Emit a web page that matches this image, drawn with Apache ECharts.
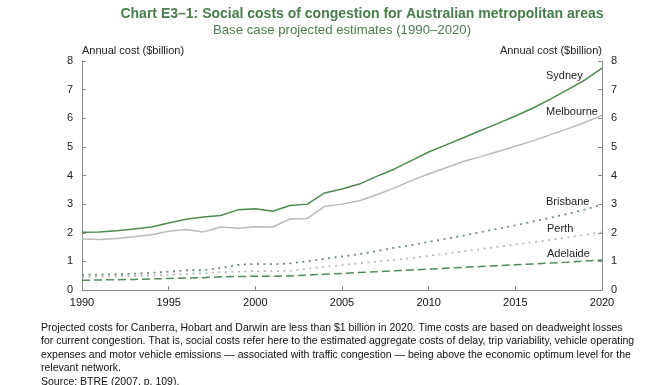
<!DOCTYPE html>
<html>
<head>
<meta charset="utf-8">
<script src="https://cdn.jsdelivr.net/npm/echarts@6/dist/echarts.min.js"></script>
<style>
html,body{margin:0;padding:0;background:#fff;}
#c{width:660px;height:385px;}
</style>
</head>
<body>
<div id="c"></div>
<script>
const years = [1990,1991,1992,1993,1994,1995,1996,1997,1998,1999,2000,2001,2002,2003,2004,2005,2006,2007,2008,2009,2010,2011,2012,2013,2014,2015,2016,2017,2018,2019,2020];
const sydney    = [2.02,2.03,2.07,2.13,2.20,2.34,2.47,2.55,2.60,2.80,2.84,2.75,2.95,3.00,3.39,3.53,3.70,3.97,4.22,4.52,4.82,5.07,5.32,5.57,5.82,6.08,6.35,6.66,6.99,7.33,7.75];
const melbourne = [1.78,1.76,1.80,1.86,1.93,2.05,2.11,2.03,2.20,2.16,2.21,2.20,2.48,2.50,2.92,3.00,3.12,3.33,3.56,3.82,4.05,4.27,4.49,4.66,4.84,5.02,5.21,5.42,5.63,5.85,6.10];
const brisbane  = [0.54,0.54,0.55,0.57,0.60,0.64,0.69,0.69,0.77,0.88,0.91,0.90,0.93,1.00,1.09,1.17,1.25,1.36,1.47,1.57,1.68,1.79,1.90,2.02,2.14,2.26,2.39,2.52,2.66,2.81,2.98];
const perth     = [0.46,0.47,0.48,0.49,0.50,0.53,0.56,0.58,0.62,0.64,0.66,0.66,0.67,0.75,0.81,0.87,0.93,0.99,1.05,1.12,1.19,1.27,1.35,1.43,1.51,1.59,1.67,1.75,1.84,1.92,2.02];
const adelaide  = [0.34,0.35,0.36,0.37,0.39,0.40,0.42,0.43,0.46,0.47,0.48,0.48,0.49,0.52,0.55,0.58,0.61,0.64,0.67,0.70,0.73,0.76,0.79,0.82,0.85,0.88,0.91,0.94,0.97,1.01,1.05];
const yTicks = [0,1,2,3,4,5,6,7,8];
const xTicks = [1990,1995,2000,2005,2010,2015,2020];
const titleText = 'Chart E3\u20131: Social costs of congestion for Australian metropolitan areas';
const subtitleText = 'Base case projected estimates (1990\u20132020)';
const axisName = 'Annual cost ($billion)';
const notes = [
 'Projected costs for Canberra, Hobart and Darwin are less than $1 billion in 2020. Time costs are based on deadweight losses',
 'for current congestion. That is, social costs refer here to the estimated aggregate costs of delay, trip variability, vehicle operating',
 'expenses and motor vehicle emissions \u2014 associated with traffic congestion \u2014 being above the economic optimum level for the',
 'relevant network.',
 'Source: BTRE (2007, p. 109).'
];
const seriesNames = ['Sydney','Melbourne','Brisbane','Perth','Adelaide'];

const pair = arr => years.map((y,i)=>[y,arr[i]]);
const font = 'Liberation Sans, Arial, sans-serif';
const axisCol = '#8a8a8a';

const yAxisBase = {
  type:'value', min:0, max:8, interval:1,
  axisLine:{show:true, lineStyle:{color:axisCol, width:1}},
  axisTick:{show:true, inside:true, length:4, lineStyle:{color:axisCol}},
  splitLine:{show:false},
  axisLabel:{color:'#222', fontSize:11, fontFamily:font, margin:9},
  name: axisName, nameLocation:'end', nameGap:5,
};

const chart = echarts.init(document.getElementById('c'), null, {renderer:'canvas'});
chart.setOption({
  animation:false,
  backgroundColor:'#fff',
  grid:{left:82, right:58, top:61, bottom:95, containLabel:false},
  xAxis:{
    type:'value', min:1990, max:2020, interval:5,
    axisLine:{show:true, onZero:false, lineStyle:{color:axisCol}},
    axisTick:{show:true, inside:true, length:4, lineStyle:{color:axisCol}},
    splitLine:{show:false},
    axisLabel:{color:'#111', fontSize:11, fontFamily:font, margin:7, formatter: v => String(v)}
  },
  yAxis:[
    Object.assign({}, yAxisBase, {position:'left',
      nameTextStyle:{color:'#222', fontSize:11, fontFamily:font, align:'left', padding:[0,0,0,0]}}),
    Object.assign({}, yAxisBase, {position:'right',
      nameTextStyle:{color:'#222', fontSize:11, fontFamily:font, align:'right', padding:[0,0,0,0]}})
  ],
  series:[
    {name:seriesNames[0], type:'line', data:pair(sydney), symbol:'none', lineStyle:{color:'#4b8b50', width:1.5}},
    {name:seriesNames[1], type:'line', data:pair(melbourne), symbol:'none', lineStyle:{color:'#b9b9b9', width:1.5}},
    {name:seriesNames[2], type:'line', data:pair(brisbane), symbol:'none', lineStyle:{color:'#6a8f74', width:1.8, type:[2,4.5]}},
    {name:seriesNames[3], type:'line', data:pair(perth), symbol:'none', lineStyle:{color:'#b8b8b8', width:1.8, type:[2,4.5]}},
    {name:seriesNames[4], type:'line', data:pair(adelaide), symbol:'none', lineStyle:{color:'#4e8a58', width:1.5, type:[8,4]}}
  ],
  graphic:[
    {type:'text', x:362, y:7, style:{text:titleText, fill:'#4a7d4c', font:'bold 14px '+font, textAlign:'center'}},
    {type:'text', x:342, y:24, style:{text:subtitleText, fill:'#4a7d4c', font:'13.2px '+font, textAlign:'center'}},
    {type:'text', left:546, top:70, style:{text:seriesNames[0], fill:'#222', font:'11px '+font}},
    {type:'text', left:546, top:106, style:{text:seriesNames[1], fill:'#222', font:'11px '+font}},
    {type:'text', left:546, top:196, style:{text:seriesNames[2], fill:'#222', font:'11px '+font}},
    {type:'text', left:547, top:223, style:{text:seriesNames[3], fill:'#222', font:'11px '+font}},
    {type:'text', left:547, top:248, style:{text:seriesNames[4], fill:'#222', font:'11px '+font}},
    {type:'text', left:41, top:321, style:{text:notes.join('\n'), fill:'#111', font:'10.5px '+font, lineHeight:13.5}}
  ]
});
</script>
</body>
</html>
